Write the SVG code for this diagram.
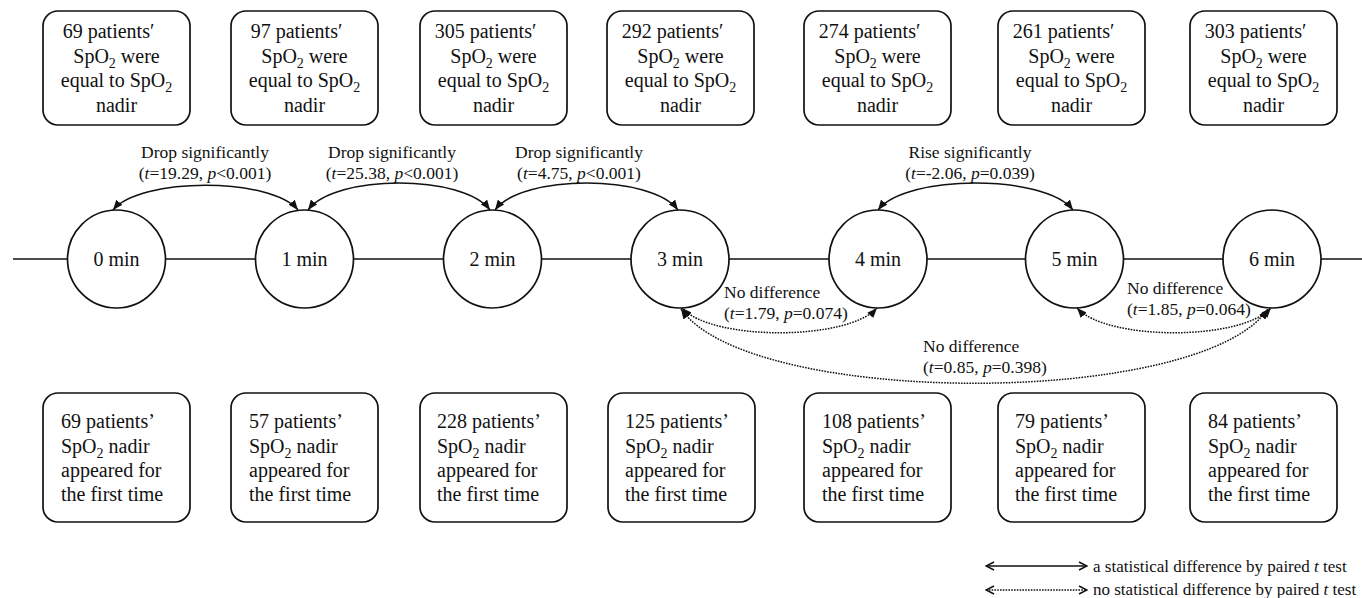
<svg xmlns="http://www.w3.org/2000/svg" width="1362" height="598" viewBox="0 0 1362 598">
<defs>
<style>
text{font-family:"Liberation Serif","Times New Roman",serif;fill:#111;}
.box{fill:#fff;stroke:#111;stroke-width:1.7;}
.node{fill:#fff;stroke:#111;stroke-width:1.7;}
.t20{font-size:20px;}
.lbl{font-size:17.5px;}
.lg{font-size:17px;}
.mid{text-anchor:middle;}
.axis{stroke:#111;stroke-width:1.6;fill:none;}
.sig{stroke:#111;stroke-width:1.5;fill:none;marker-start:url(#ah);marker-end:url(#ah);}
.ns{stroke:#111;stroke-width:1.5;fill:none;stroke-dasharray:1.6 1.2;marker-start:url(#ah);marker-end:url(#ah);}
.leg{stroke:#111;stroke-width:1.5;fill:none;marker-start:url(#open);marker-end:url(#open);}
.legd{stroke:#111;stroke-width:1.5;fill:none;stroke-dasharray:1.6 1.2;marker-start:url(#open);marker-end:url(#open);}
</style>
<marker id="ah" viewBox="0 0 10 8" refX="10" refY="4" markerWidth="10" markerHeight="8" markerUnits="userSpaceOnUse" orient="auto-start-reverse">
<path d="M0,0 L10,4 L0,8 z" fill="#111"/>
</marker>
<marker id="open" viewBox="0 0 10 10" refX="9" refY="5" markerWidth="10" markerHeight="10" markerUnits="userSpaceOnUse" orient="auto-start-reverse">
<path d="M1,1 L9,5 L1,9" fill="none" stroke="#111" stroke-width="1.5"/>
</marker>
</defs>
<rect width="1362" height="598" fill="#fff"/>

<g id="connectors">
<path class="axis" d="M13,259 H67.5 M165.5,259 H255.5 M353.5,259 H443.5 M541.5,259 H631 M729,259 H829 M927,259 H1025.5 M1123.5,259 H1223 M1321,259 H1362"/>
<path class="sig" d="M113,210 C140,177 271,177 298,210"/>
<path class="sig" d="M308,210 C335,174 463,174 490,210"/>
<path class="sig" d="M495,210 C522,174 651,174 678,210"/>
<path class="sig" d="M878,210 C906,174 1045,174 1073,210"/>
<path class="ns" d="M682,308 C712,341 847,341 877,308"/>
<path class="ns" d="M681,309 C750,408 1200,408 1268,309"/>
<path class="ns" d="M1077,308 C1107,341 1241,341 1271,308"/>
<text class="lbl mid" x="205" y="158">Drop significantly</text>
<text class="lbl mid" x="205" y="179">(<tspan font-style="italic">t</tspan>=19.29, <tspan font-style="italic">p</tspan>&lt;0.001)</text>
<text class="lbl mid" x="392" y="158">Drop significantly</text>
<text class="lbl mid" x="392" y="179">(<tspan font-style="italic">t</tspan>=25.38, <tspan font-style="italic">p</tspan>&lt;0.001)</text>
<text class="lbl mid" x="579" y="158">Drop significantly</text>
<text class="lbl mid" x="579" y="179">(<tspan font-style="italic">t</tspan>=4.75, <tspan font-style="italic">p</tspan>&lt;0.001)</text>
<text class="lbl mid" x="970" y="158">Rise significantly</text>
<text class="lbl mid" x="970" y="179">(<tspan font-style="italic">t</tspan>=-2.06, <tspan font-style="italic">p</tspan>=0.039)</text>
<text class="lbl" x="724" y="298">No difference</text>
<text class="lbl" x="724" y="319">(<tspan font-style="italic">t</tspan>=1.79, <tspan font-style="italic">p</tspan>=0.074)</text>
<text class="lbl" x="923" y="352">No difference</text>
<text class="lbl" x="923" y="373">(<tspan font-style="italic">t</tspan>=0.85, <tspan font-style="italic">p</tspan>=0.398)</text>
<text class="lbl" x="1127" y="294">No difference</text>
<text class="lbl" x="1127" y="315">(<tspan font-style="italic">t</tspan>=1.85, <tspan font-style="italic">p</tspan>=0.064)</text>
</g>

<g id="node-0min"><circle class="node" cx="116.5" cy="259" r="49"/><text class="t20 mid" x="116.5" y="266">0 min</text></g>
<g id="node-1min"><circle class="node" cx="304.5" cy="259" r="49"/><text class="t20 mid" x="304.5" y="266">1 min</text></g>
<g id="node-2min"><circle class="node" cx="492.5" cy="259" r="49"/><text class="t20 mid" x="492.5" y="266">2 min</text></g>
<g id="node-3min"><circle class="node" cx="680" cy="259" r="49"/><text class="t20 mid" x="680" y="266">3 min</text></g>
<g id="node-4min"><circle class="node" cx="878" cy="259" r="49"/><text class="t20 mid" x="878" y="266">4 min</text></g>
<g id="node-5min"><circle class="node" cx="1074.5" cy="259" r="49"/><text class="t20 mid" x="1074.5" y="266">5 min</text></g>
<g id="node-6min"><circle class="node" cx="1272" cy="259" r="49"/><text class="t20 mid" x="1272" y="266">6 min</text></g>

<g id="top-0">
<rect class="box" x="43" y="11" width="147" height="114" rx="15"/>
<text class="t20 mid" x="108.5" y="38">69 patients′</text>
<text class="t20 mid" x="116.5" y="63">SpO<tspan dy="5" font-size="14">2</tspan><tspan dy="-5"> were</tspan></text>
<text class="t20 mid" x="116.5" y="87">equal to SpO<tspan dy="5" font-size="14">2</tspan></text>
<text class="t20 mid" x="116.5" y="112">nadir</text>
</g>
<g id="top-1">
<rect class="box" x="231" y="11" width="147" height="114" rx="15"/>
<text class="t20 mid" x="296.5" y="38">97 patients′</text>
<text class="t20 mid" x="304.5" y="63">SpO<tspan dy="5" font-size="14">2</tspan><tspan dy="-5"> were</tspan></text>
<text class="t20 mid" x="304.5" y="87">equal to SpO<tspan dy="5" font-size="14">2</tspan></text>
<text class="t20 mid" x="304.5" y="112">nadir</text>
</g>
<g id="top-2">
<rect class="box" x="420" y="11" width="147" height="114" rx="15"/>
<text class="t20 mid" x="485.5" y="38">305 patients′</text>
<text class="t20 mid" x="493.5" y="63">SpO<tspan dy="5" font-size="14">2</tspan><tspan dy="-5"> were</tspan></text>
<text class="t20 mid" x="493.5" y="87">equal to SpO<tspan dy="5" font-size="14">2</tspan></text>
<text class="t20 mid" x="493.5" y="112">nadir</text>
</g>
<g id="top-3">
<rect class="box" x="607" y="11" width="147" height="114" rx="15"/>
<text class="t20 mid" x="672.5" y="38">292 patients′</text>
<text class="t20 mid" x="680.5" y="63">SpO<tspan dy="5" font-size="14">2</tspan><tspan dy="-5"> were</tspan></text>
<text class="t20 mid" x="680.5" y="87">equal to SpO<tspan dy="5" font-size="14">2</tspan></text>
<text class="t20 mid" x="680.5" y="112">nadir</text>
</g>
<g id="top-4">
<rect class="box" x="804" y="11" width="147" height="114" rx="15"/>
<text class="t20 mid" x="869.5" y="38">274 patients′</text>
<text class="t20 mid" x="877.5" y="63">SpO<tspan dy="5" font-size="14">2</tspan><tspan dy="-5"> were</tspan></text>
<text class="t20 mid" x="877.5" y="87">equal to SpO<tspan dy="5" font-size="14">2</tspan></text>
<text class="t20 mid" x="877.5" y="112">nadir</text>
</g>
<g id="top-5">
<rect class="box" x="998" y="11" width="147" height="114" rx="15"/>
<text class="t20 mid" x="1063.5" y="38">261 patients′</text>
<text class="t20 mid" x="1071.5" y="63">SpO<tspan dy="5" font-size="14">2</tspan><tspan dy="-5"> were</tspan></text>
<text class="t20 mid" x="1071.5" y="87">equal to SpO<tspan dy="5" font-size="14">2</tspan></text>
<text class="t20 mid" x="1071.5" y="112">nadir</text>
</g>
<g id="top-6">
<rect class="box" x="1190" y="11" width="147" height="114" rx="15"/>
<text class="t20 mid" x="1255.5" y="38">303 patients′</text>
<text class="t20 mid" x="1263.5" y="63">SpO<tspan dy="5" font-size="14">2</tspan><tspan dy="-5"> were</tspan></text>
<text class="t20 mid" x="1263.5" y="87">equal to SpO<tspan dy="5" font-size="14">2</tspan></text>
<text class="t20 mid" x="1263.5" y="112">nadir</text>
</g>

<g id="bottom-0">
<rect class="box" x="43" y="393" width="147" height="129" rx="15"/>
<text class="t20" x="61" y="428">69 patients’</text>
<text class="t20" x="61" y="453">SpO<tspan dy="5" font-size="14">2</tspan><tspan dy="-5"> nadir</tspan></text>
<text class="t20" x="61" y="477">appeared for</text>
<text class="t20" x="61" y="501">the first time</text>
</g>
<g id="bottom-1">
<rect class="box" x="231" y="393" width="147" height="129" rx="15"/>
<text class="t20" x="249" y="428">57 patients’</text>
<text class="t20" x="249" y="453">SpO<tspan dy="5" font-size="14">2</tspan><tspan dy="-5"> nadir</tspan></text>
<text class="t20" x="249" y="477">appeared for</text>
<text class="t20" x="249" y="501">the first time</text>
</g>
<g id="bottom-2">
<rect class="box" x="420" y="393" width="147" height="129" rx="15"/>
<text class="t20" x="437" y="428">228 patients’</text>
<text class="t20" x="437" y="453">SpO<tspan dy="5" font-size="14">2</tspan><tspan dy="-5"> nadir</tspan></text>
<text class="t20" x="437" y="477">appeared for</text>
<text class="t20" x="437" y="501">the first time</text>
</g>
<g id="bottom-3">
<rect class="box" x="608" y="393" width="147" height="129" rx="15"/>
<text class="t20" x="625" y="428">125 patients’</text>
<text class="t20" x="625" y="453">SpO<tspan dy="5" font-size="14">2</tspan><tspan dy="-5"> nadir</tspan></text>
<text class="t20" x="625" y="477">appeared for</text>
<text class="t20" x="625" y="501">the first time</text>
</g>
<g id="bottom-4">
<rect class="box" x="804" y="393" width="147" height="129" rx="15"/>
<text class="t20" x="822" y="428">108 patients’</text>
<text class="t20" x="822" y="453">SpO<tspan dy="5" font-size="14">2</tspan><tspan dy="-5"> nadir</tspan></text>
<text class="t20" x="822" y="477">appeared for</text>
<text class="t20" x="822" y="501">the first time</text>
</g>
<g id="bottom-5">
<rect class="box" x="998" y="393" width="147" height="129" rx="15"/>
<text class="t20" x="1015" y="428">79 patients’</text>
<text class="t20" x="1015" y="453">SpO<tspan dy="5" font-size="14">2</tspan><tspan dy="-5"> nadir</tspan></text>
<text class="t20" x="1015" y="477">appeared for</text>
<text class="t20" x="1015" y="501">the first time</text>
</g>
<g id="bottom-6">
<rect class="box" x="1190" y="393" width="147" height="129" rx="15"/>
<text class="t20" x="1208" y="428">84 patients’</text>
<text class="t20" x="1208" y="453">SpO<tspan dy="5" font-size="14">2</tspan><tspan dy="-5"> nadir</tspan></text>
<text class="t20" x="1208" y="477">appeared for</text>
<text class="t20" x="1208" y="501">the first time</text>
</g>

<g id="legend">
<path class="leg" d="M986,566 H1087"/>
<text class="lg" x="1093" y="572">a statistical difference by paired <tspan font-style="italic">t</tspan> test</text>
<path class="legd" d="M986,590 H1087"/>
<text class="lg" x="1093" y="595">no statistical difference by paired <tspan font-style="italic">t</tspan> test</text>
</g>
</svg>
